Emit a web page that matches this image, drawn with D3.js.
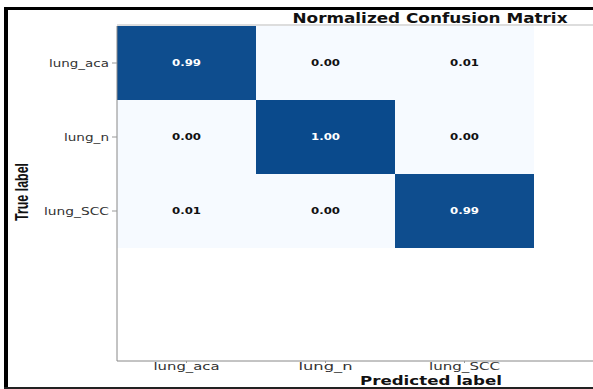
<!DOCTYPE html>
<html>
<head>
<meta charset="utf-8">
<script src="https://cdn.jsdelivr.net/npm/d3@7"></script>
<style>
  html, body { margin: 0; padding: 0; background: #fff; }
  svg { display: block; }
</style>
</head>
<body>
<script>
// Class names and normalized confusion values (rows = true label, cols = predicted)
const classes = ["lung_aca", "lung_n", "lung_SCC"];
const matrix = [
  [0.99, 0.00, 0.01],
  [0.00, 1.00, 0.00],
  [0.01, 0.00, 0.99]
];
const valueLabels = [
  ["0.99", "0.00", "0.01"],
  ["0.00", "1.00", "0.00"],
  ["0.01", "0.00", "0.99"]
];

const W = 593, H = 389;
const svg = d3.select("body").append("svg").attr("width", W).attr("height", H);

// Outer frame
svg.append("rect").attr("x", 0).attr("y", 0).attr("width", W).attr("height", H).attr("fill", "#fff");
svg.append("rect").attr("x", 4).attr("y", 7).attr("width", 4).attr("height", 382).attr("fill", "#000");
svg.append("rect").attr("x", 4).attr("y", 7).attr("width", W - 4).attr("height", 3).attr("fill", "#000");
svg.append("rect").attr("x", 4).attr("y", 387).attr("width", W - 4).attr("height", 2).attr("fill", "#222");

// Heatmap geometry
const plotL = 117, plotR = 534, plotT = 26, plotB = 248, axisY = 361;
const x = d3.scaleBand().domain(classes).range([plotL, plotR]).padding(0);
const y = d3.scaleBand().domain(classes).range([plotT, plotB]).padding(0);
const color = d3.scaleSequential(t => d3.interpolateRgb("#f6faff", "#0a4a8c")(Math.pow(t, 1.6))).domain([0, 1]);

// Light rule under title
svg.append("line").attr("x1", plotL).attr("x2", W).attr("y1", 25).attr("y2", 25)
  .attr("stroke", "#bbb").attr("stroke-width", 1);

const cells = [];
matrix.forEach((row, i) => row.forEach((v, j) => cells.push({ r: classes[i], c: classes[j], v, label: valueLabels[i][j] })));

svg.append("g").selectAll("rect").data(cells).join("rect")
  .attr("x", d => x(d.c)).attr("y", d => y(d.r))
  .attr("width", x.bandwidth()).attr("height", y.bandwidth())
  .attr("fill", d => color(d.v));

svg.append("g").selectAll("text").data(cells).join("text")
  .attr("x", d => x(d.c) + x.bandwidth() / 2)
  .attr("y", d => y(d.r) + y.bandwidth() / 2 + 3)
  .attr("text-anchor", "middle")
  .attr("font-family", "DejaVu Sans")
  .attr("font-weight", "bold")
  .attr("font-size", 9)
  .attr("textLength", 29)
  .attr("lengthAdjust", "spacingAndGlyphs")
  .attr("fill", d => d.v > 0.5 ? "#fff" : "#111")
  .text(d => d.label);

// Spines
svg.append("line").attr("x1", plotL).attr("x2", plotL).attr("y1", plotT).attr("y2", axisY)
  .attr("stroke", "#888").attr("stroke-width", 1);
svg.append("line").attr("x1", plotL).attr("x2", W).attr("y1", axisY).attr("y2", axisY)
  .attr("stroke", "#888").attr("stroke-width", 1);

// Y axis ticks/labels
const yAxis = svg.append("g").attr("transform", `translate(${plotL},0)`)
  .call(d3.axisLeft(y).tickSize(5).tickPadding(3));
yAxis.select(".domain").remove();
yAxis.selectAll(".tick line").attr("stroke", "#999");
yAxis.selectAll(".tick text")
  .attr("font-family", "DejaVu Sans").attr("font-size", 11).attr("fill", "#333")
  .attr("textLength", d => ({ lung_aca: 60, lung_n: 45, lung_SCC: 65 })[d])
  .attr("lengthAdjust", "spacingAndGlyphs");

// X axis ticks/labels
const xAxis = svg.append("g").attr("transform", `translate(0,${axisY})`)
  .call(d3.axisBottom(x).tickSize(2).tickPadding(0));
xAxis.select(".domain").remove();
xAxis.selectAll(".tick line").attr("stroke", "#999");
xAxis.selectAll(".tick text")
  .attr("font-family", "DejaVu Sans").attr("font-size", 10.5).attr("fill", "#333")
  .attr("textLength", d => ({ lung_aca: 66, lung_n: 54, lung_SCC: 71 })[d])
  .attr("lengthAdjust", "spacingAndGlyphs");

// Title and axis labels
svg.append("text").attr("x", 430).attr("y", 23).attr("text-anchor", "middle")
  .attr("font-family", "DejaVu Sans").attr("font-weight", "bold").attr("font-size", 13.5)
  .attr("textLength", 275).attr("lengthAdjust", "spacingAndGlyphs")
  .attr("fill", "#111").text("Normalized Confusion Matrix");

svg.append("text").attr("x", 431).attr("y", 384.5).attr("text-anchor", "middle")
  .attr("font-family", "DejaVu Sans").attr("font-weight", "bold").attr("font-size", 12)
  .attr("textLength", 142).attr("lengthAdjust", "spacingAndGlyphs")
  .attr("fill", "#111").text("Predicted label");

svg.append("text").attr("transform", "translate(28,192) rotate(-90)").attr("text-anchor", "middle")
  .attr("font-family", "Liberation Sans").attr("font-weight", "bold").attr("font-size", 18)
  .attr("textLength", 58).attr("lengthAdjust", "spacingAndGlyphs")
  .attr("fill", "#111").text("True label");
</script>
</body>
</html>
